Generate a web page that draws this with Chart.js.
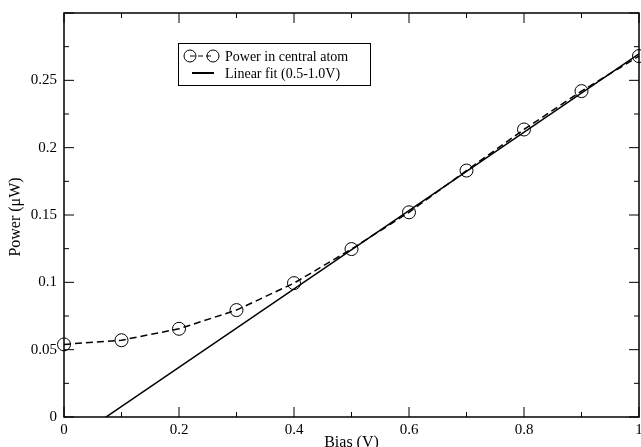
<!DOCTYPE html>
<html>
<head>
<meta charset="utf-8">
<script src="https://cdn.jsdelivr.net/npm/chart.js@4"></script>
<style>
  html, body { margin: 0; padding: 0; background: #fff; }
  #wrap { width: 641px; height: 447px; }
</style>
</head>
<body>
<div id="wrap"><canvas id="chart" width="641" height="447"></canvas></div>
<script>
(function () {
    "use strict";

    // data
    const biasValues = [0, 0.1, 0.2, 0.3, 0.4, 0.5, 0.6, 0.7, 0.8, 0.9, 1.0];
    const powerValues = [0.0539, 0.057, 0.0655, 0.0794, 0.0994, 0.1247, 0.152, 0.183, 0.2135, 0.242, 0.268];
    const fitBias = [0, 1.0];
    const fitPower = [-0.0213, 0.2697];
    const xTickLabels = ["0", "0.2", "0.4", "0.6", "0.8", "1"];
    const yTickLabels = ["0", "0.05", "0.1", "0.15", "0.2", "0.25"];

    const serif = "'Liberation Serif', 'DejaVu Serif', serif";

    // inward ticks on all four sides, frame, axis titles, legend
    const frame = {
        id: "frame",
        afterDraw(chart) {
            const { ctx, chartArea: a, scales } = chart;
            const x = scales.x, y = scales.y;
            ctx.save();
            ctx.strokeStyle = "#000";
            ctx.lineWidth = 1.5;
            ctx.strokeRect(a.left, a.top, a.right - a.left, a.bottom - a.top);
            ctx.lineWidth = 1;
            ctx.beginPath();
            for (let i = 0; i <= 10; i++) {
                const px = x.getPixelForValue(i / 10);
                const len = i % 2 === 0 ? 10 : 5;
                ctx.moveTo(px, a.bottom); ctx.lineTo(px, a.bottom - len);
                ctx.moveTo(px, a.top); ctx.lineTo(px, a.top + len);
            }
            for (let i = 0; i <= 12; i++) {
                const py = y.getPixelForValue(i * 0.025);
                const len = i % 2 === 0 ? 10 : 5;
                ctx.moveTo(a.left, py); ctx.lineTo(a.left + len, py);
                ctx.moveTo(a.right, py); ctx.lineTo(a.right - len, py);
            }
            ctx.stroke();

            // axis titles
            ctx.fillStyle = "#000";
            ctx.font = "16px " + serif;
            ctx.textAlign = "center";
            ctx.textBaseline = "middle";
            ctx.fillText("Bias (V)", (a.left + a.right) / 2, 443);
            ctx.save();
            ctx.translate(16, 217);
            ctx.rotate(-Math.PI / 2);
            ctx.fillText("Power (\u03bcW)", 0, 0);
            ctx.restore();

            // legend box
            const lx = 178, ly = 43, lw = 192, lh = 42;
            ctx.lineWidth = 1;
            ctx.strokeRect(lx + 0.5, ly + 0.5, lw, lh);
            ctx.font = "14px " + serif;
            ctx.textAlign = "left";
            const r1 = ly + 13, r2 = ly + 30;
            ctx.setLineDash([5, 3]);
            ctx.beginPath();
            ctx.moveTo(190, r1); ctx.lineTo(213, r1);
            ctx.stroke();
            ctx.setLineDash([]);
            ctx.beginPath();
            ctx.arc(190, r1, 6, 0, Math.PI * 2);
            ctx.moveTo(219, r1);
            ctx.arc(213, r1, 6, 0, Math.PI * 2);
            ctx.stroke();
            ctx.lineWidth = 2;
            ctx.beginPath();
            ctx.moveTo(192, r2); ctx.lineTo(214, r2);
            ctx.stroke();
            ctx.fillText("Power in central atom", 225, r1 + 1);
            ctx.fillText("Linear fit (0.5-1.0V)", 225, r2 + 1);
            ctx.restore();
        },
    };

    const ctx = document.getElementById("chart").getContext("2d");
    new Chart(ctx, {
        type: "scatter",
        data: {
            datasets: [
                {
                    label: "Power in central atom",
                    data: biasValues.map((b, i) => ({ x: b, y: powerValues[i] })),
                    showLine: true,
                    clip: false,
                    borderColor: "#000",
                    borderWidth: 1.5,
                    borderDash: [7, 4],
                    pointRadius: 6.5,
                    pointBorderWidth: 1,
                    pointBackgroundColor: "transparent",
                    pointBorderColor: "#000",
                },
                {
                    label: "Linear fit (0.5-1.0V)",
                    data: fitBias.map((b, i) => ({ x: b, y: fitPower[i] })),
                    showLine: true,
                    borderColor: "#000",
                    borderWidth: 1.5,
                    pointRadius: 0,
                },
            ],
        },
        options: {
            responsive: false,
            animation: false,
            layout: {
                autoPadding: false,
                padding: { top: 13, right: 2, left: 0, bottom: 0 },
            },
            plugins: {
                legend: { display: false },
                tooltip: { enabled: false },
            },
            scales: {
                x: {
                    type: "linear",
                    min: 0,
                    max: 1,
                    afterFit(s) {
                        s.height = 30;
                        s.paddingLeft = 0;
                        s.paddingRight = 0;
                    },
                    grid: { display: false, drawTicks: false },
                    border: { display: false },
                    ticks: {
                        stepSize: 0.2,
                        padding: 4,
                        color: "#000",
                        font: { family: serif, size: 15 },
                        callback: (v) => {
                            const i = Math.round(v / 0.2);
                            return Math.abs(v - i * 0.2) < 1e-6 ? xTickLabels[i] : null;
                        },
                    },
                },
                y: {
                    type: "linear",
                    min: 0,
                    max: 0.3,
                    afterFit(s) {
                        s.width = 64;
                        s.paddingTop = 0;
                        s.paddingBottom = 0;
                    },
                    grid: { display: false, drawTicks: false },
                    border: { display: false },
                    ticks: {
                        stepSize: 0.05,
                        padding: 7,
                        color: "#000",
                        font: { family: serif, size: 15 },
                        callback: (v) => {
                            const i = Math.round(v / 0.05);
                            return i < yTickLabels.length ? yTickLabels[i] : "";
                        },
                    },
                },
            },
        },
        plugins: [frame],
    });
})();
</script>
</body>
</html>
